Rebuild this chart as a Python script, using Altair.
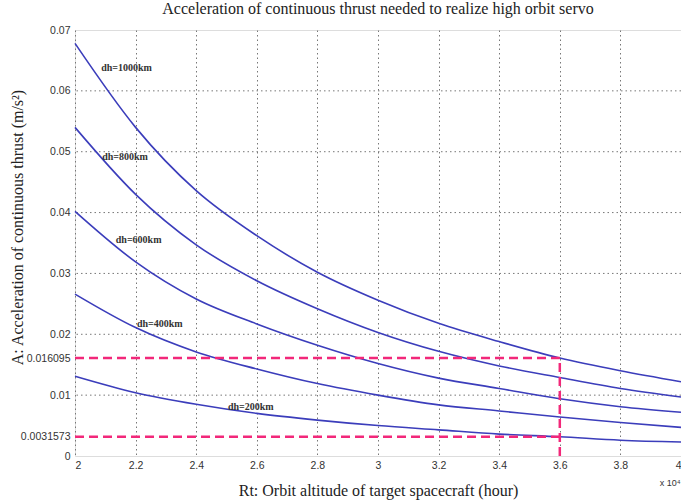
import altair as alt
import pandas as pd

# ---- data ----
rt = [2.0, 2.2, 2.4, 2.6, 2.8, 3.0, 3.2, 3.4, 3.6, 3.8, 4.0]
dh1000 = [0.0678, 0.0540, 0.0436, 0.0362, 0.0302, 0.0256, 0.0218, 0.0188, 0.016095, 0.0140, 0.0122]
dh800 = [0.0540, 0.0430, 0.0347, 0.0288, 0.0242, 0.0203, 0.0172, 0.0148, 0.0129, 0.0111, 0.0097]
dh600 = [0.0402, 0.0319, 0.0258, 0.0217, 0.0182, 0.0152, 0.0128, 0.0111, 0.0094, 0.0081, 0.0072]
dh400 = [0.0266, 0.0211, 0.0171, 0.0143, 0.0119, 0.0100, 0.0084, 0.0074, 0.0064, 0.0055, 0.0047]
dh200 = [0.0131, 0.0104, 0.0085, 0.0070, 0.0059, 0.0050, 0.0043, 0.0036, 0.0031573, 0.0026, 0.0023]

series_names = ["dh=1000km", "dh=800km", "dh=600km", "dh=400km", "dh=200km"]
series_vals = [dh1000, dh800, dh600, dh400, dh200]

label_x = [2.17, 2.165, 2.21, 2.28, 2.58]
label_y = [0.0637, 0.0491, 0.0355, 0.0217, 0.0080]

x_ticks = [2.0, 2.2, 2.4, 2.6, 2.8, 3.0, 3.2, 3.4, 3.6, 3.8, 4.0]
y_grid = [0.01, 0.02, 0.03, 0.04, 0.05, 0.06]
y_ticks = [0, 0.0031573, 0.01, 0.016095, 0.02, 0.03, 0.04, 0.05, 0.06, 0.07]

ref_x = 3.6
ref_y = [0.016095, 0.0031573]

rows = []
for name, vals in zip(series_names, series_vals):
    for x, v in zip(rt, vals):
        rows.append({"rt": x, "a": v, "dh": name})
df = pd.DataFrame(rows)

labels_df = pd.DataFrame({"rt": label_x, "a": label_y, "text": series_names})
grid_df = pd.DataFrame({"a": y_grid})
href_df = pd.DataFrame({"x1": [rt[0]] * len(ref_y), "x2": [ref_x] * len(ref_y), "a": ref_y})
vref_df = pd.DataFrame({"x": [ref_x], "y1": [0.0], "y2": [ref_y[0]]})
exp_df = pd.DataFrame({"rt": [3.93], "text": ["x 10\u2074"]})

W, H = 606, 426
PINK = "#f2287a"
BLUE = "#3b3dbb"

xscale = alt.Scale(domain=[2, 4], nice=False, zero=False)
yscale = alt.Scale(domain=[0, 0.07], nice=False)

xaxis = alt.Axis(
    values=x_ticks, format="~r", grid=True, gridDash=[1.5, 3], gridColor="#777",
    gridWidth=1, ticks=False, domain=False, labelFont="Liberation Sans",
    labelFontSize=10.5, labelColor="#333", labelPadding=4,
    title="Rt: Orbit altitude of target spacecraft (hour)", titleFont="Liberation Serif",
    titleFontSize=16, titleFontWeight="normal", titleColor="#222", titlePadding=12,
)
yaxis = alt.Axis(
    values=y_ticks, labelExpr="toString(datum.value)", grid=False, ticks=False, domain=False,
    labelFont="Liberation Sans", labelFontSize=10.5, labelColor="#333", labelPadding=5,
    title="A: Acceleration of continuous thrust (m/s\u00b2)", titleFont="Liberation Serif",
    titleFontSize=16, titleFontWeight="normal", titleColor="#222",
    titleX=-50, titleY=197, titleAngle=270, titleAlign="center", titleBaseline="bottom",
)

grid = alt.Chart(grid_df).mark_rule(strokeDash=[1.5, 3], color="#777", strokeWidth=1).encode(
    y=alt.Y("a:Q", scale=yscale, axis=yaxis)
)

lines = alt.Chart(df).mark_line(color=BLUE, strokeWidth=1.6, interpolate="monotone").encode(
    x=alt.X("rt:Q", scale=xscale, axis=xaxis),
    y=alt.Y("a:Q", scale=yscale),
    detail="dh:N",
)

href = alt.Chart(href_df).mark_rule(color=PINK, strokeWidth=2.5, strokeDash=[9, 5]).encode(
    x="x1:Q", x2="x2:Q", y="a:Q"
)
vref = alt.Chart(vref_df).mark_rule(color=PINK, strokeWidth=2.5, strokeDash=[9, 5]).encode(
    x="x:Q", y="y1:Q", y2="y2:Q"
)

texts = alt.Chart(labels_df).mark_text(
    font="Liberation Serif", fontSize=10, fontWeight="bold", color="#333", align="center", baseline="middle"
).encode(x="rt:Q", y="a:Q", text="text:N")

exp_text = alt.Chart(exp_df).mark_text(
    font="Liberation Sans", fontSize=9, color="#333", align="left", baseline="middle"
).encode(x="rt:Q", y=alt.value(H + 27), text="text:N")

chart = alt.layer(grid, lines, href, vref, texts, exp_text).properties(
    width=W, height=H,
    title=alt.TitleParams(
        "Acceleration of continuous thrust needed to realize high orbit servo",
        font="Liberation Serif", fontSize=16, fontWeight="normal", color="#222", offset=8,
    ),
    autosize=alt.AutoSizeParams(type="none"),
    padding={"left": 75, "top": 30, "right": 0, "bottom": 45},
).configure_view(stroke="#888", strokeWidth=1.5).configure(background="white")

chart.save("out.html", embed_options={"renderer": "svg", "actions": False})
